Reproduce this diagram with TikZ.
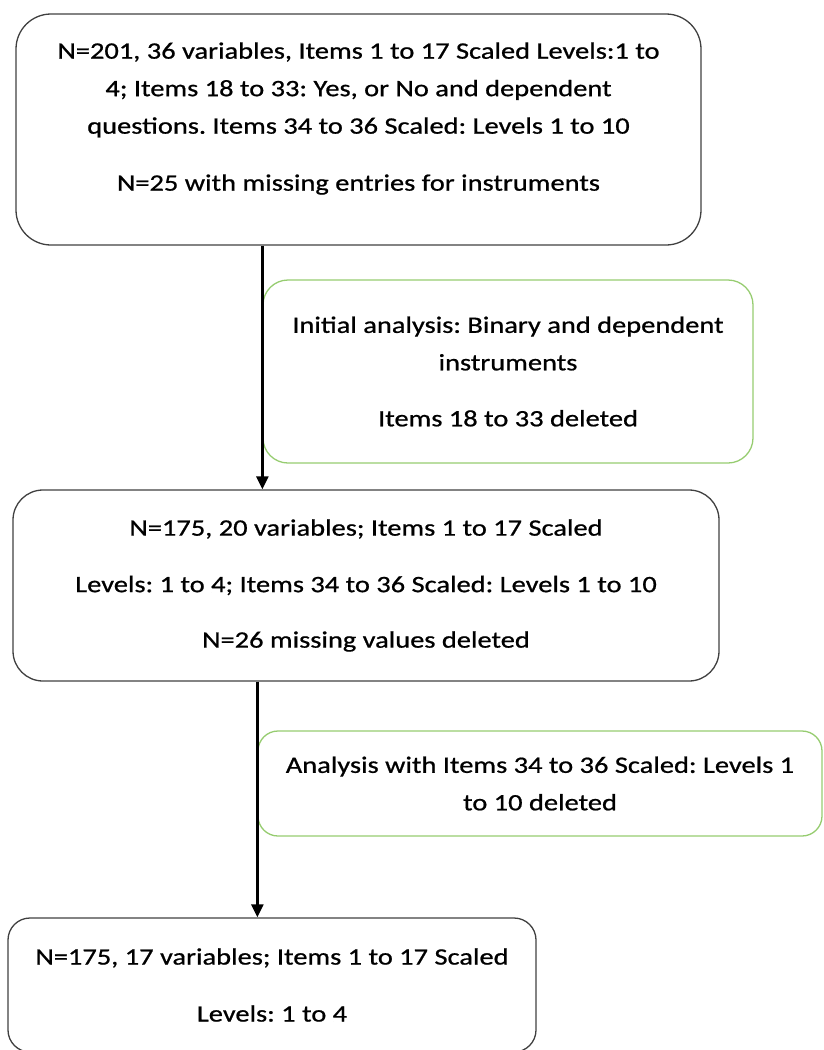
\documentclass[tikz,border=0pt]{standalone}
\usepackage{fontspec}
\setmainfont{Carlito}[FakeStretch=1.21, FakeBold=0.8]
\usepackage{tikz}
\usetikzlibrary{positioning,arrows.meta,calc}
\definecolor{notegreen}{RGB}{150,204,112}
\frenchspacing

\begin{document}
\begin{tikzpicture}[
    x=1pt, y=-1pt,
    font=\fontsize{23.5}{37.5}\selectfont,
    stage/.style={draw=black!75, line width=1.3pt, align=center, minimum width=#1},
    note/.style={draw=notegreen, line width=1.3pt, align=center, minimum width=#1},
    flow/.style={-{Triangle[length=13pt, width=12pt]}, line width=2.4pt},
  ]
    \useasboundingbox (0,0) rectangle (823,1050);
    % boxes
    \node[stage=685pt, minimum height=231pt, rounded corners=35pt, text depth=26pt] (start) at (358.5,129.5)
      {N=201, 36 variables, Items 1 to 17 Scaled Levels:1 to\\
       4; Items 18 to 33: Yes, or No and dependent\\
       questions. Items 34 to 36 Scaled: Levels 1 to 10\\[19.5pt]
       N=25 with missing entries for instruments};
    \node[note=490pt, minimum height=183pt, rounded corners=25pt] (binary) at (508,371.5)
      {Initial analysis: Binary and dependent\\
       instruments\\[18.5pt]
       Items 18 to 33 deleted};
    \node[stage=706pt, minimum height=191pt, rounded corners=30pt] (middle) at (366,585.5)
      {N=175, 20 variables; Items 1 to 17 Scaled\\[19pt]
       Levels: 1 to 4; Items 34 to 36 Scaled: Levels 1 to 10\\[18pt]
       N=26 missing values deleted};
    \node[note=564pt, minimum height=105pt, rounded corners=20pt] (scaled) at (540,783.5)
      {Analysis with Items 34 to 36 Scaled: Levels 1\\
       to 10 deleted};
    \node[stage=528pt, minimum height=134pt, rounded corners=22pt] (final) at (272,985)
      {N=175, 17 variables; Items 1 to 17 Scaled\\[19.5pt]
       Levels: 1 to 4};

    % arrows
    \draw[flow] (start.south -| binary.west) -- (middle.north -| binary.west);
    \draw[flow] (middle.south -| scaled.west) -- (final.north -| scaled.west);
  \end{tikzpicture}
\end{document}
